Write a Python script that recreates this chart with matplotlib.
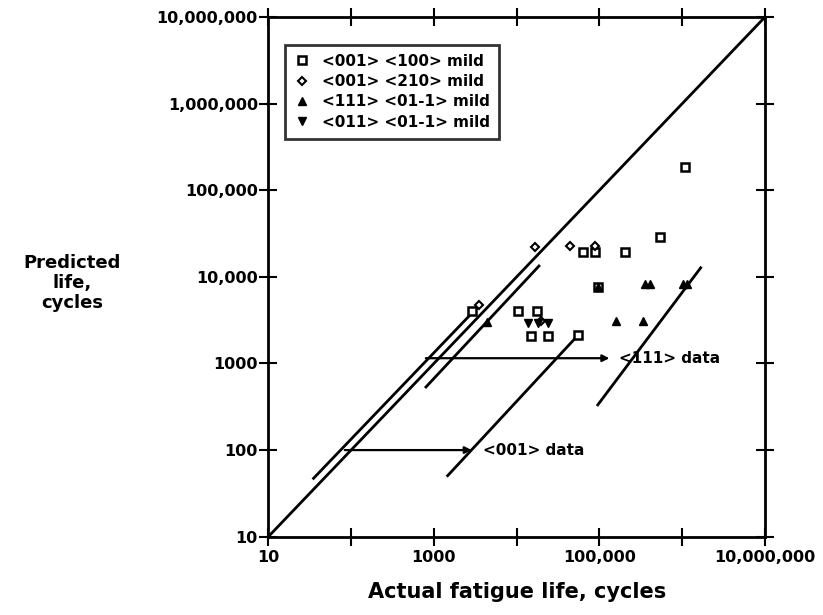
import matplotlib
matplotlib.use("Agg")
import matplotlib.pyplot as plt
from matplotlib.ticker import FixedLocator, FixedFormatter, NullLocator

plt.rcParams['font.family'] = ['DejaVu Sans']
plt.rcParams['font.weight'] = 'bold'

# ---- data: actual fatigue life (x) vs predicted life (y), cycles ----
sq_x = [1.08e6, 5.4e5, 2.03e5, 6.27e4, 8.83e4, 2870, 10400, 17700, 14800, 24100, 55400, 96800]
sq_y = [1.84e5, 28600, 19500, 19200, 19500, 4070, 4070, 4070, 2090, 2090, 2130, 7710]

dia_x = [16600, 44000, 88300, 3530, 19600]
dia_y = [22300, 22700, 22900, 4740, 3120]

up_x = [4420, 3.55e5, 4.08e5, 1.01e6, 1.15e6, 1.58e5, 3.38e5, 96800]
up_y = [3040, 8280, 8280, 8280, 8280, 3120, 3120, 7710]

dn_x = [13800, 18200, 24100]
dn_y = [2910, 2910, 2910]

# reference and band lines (endpoints, cycles)
unity_x = [10, 1e7]
unity_y = [10, 1e7]
pred001_x = [34.3, 3310]
pred001_y = [46.0, 4380]
pred111_x = [782, 19100]
pred111_y = [521, 13700]
data001_x = [1430, 55400]
data001_y = [49.3, 2130]
data111_x = [93300, 1.71e6]
data111_y = [323, 13100]

# shift arrows (start x, end x, level y)
arrow001 = (84, 2870, 100)
arrow111 = (800, 1.32e5, 1150)

legend_labels = ['<001> <100> mild', '<001> <210> mild',
                 '<111> <01-1> mild', '<011> <01-1> mild']

x_ticks = [1e1, 1e2, 1e3, 1e4, 1e5, 1e6, 1e7]
x_tick_labels = ['10', '', '1000', '', '100,000', '', '10,000,000']
y_ticks = [1e1, 1e2, 1e3, 1e4, 1e5, 1e6, 1e7]
y_tick_labels = ['10', '100', '1000', '10,000', '100,000', '1,000,000', '10,000,000']

W, H = 823, 615
fig = plt.figure(figsize=(W / 100, H / 100), dpi=100)
left, right, bottom, top = 268.3, 765.0, 536.7, 17.0
ax = fig.add_axes([left / W, 1 - bottom / H, (right - left) / W, (bottom - top) / H])
ax.set_xscale('log')
ax.set_yscale('log')
ax.set_xlim(10, 1e7)
ax.set_ylim(10, 1e7)

lw = 2.0
for xs, ys in [(unity_x, unity_y), (pred001_x, pred001_y), (pred111_x, pred111_y),
               (data001_x, data001_y), (data111_x, data111_y)]:
    ax.plot(xs, ys, color='black', lw=lw, solid_capstyle='butt')

ax.plot(sq_x, sq_y, ls='none', marker='s', ms=6, mfc='white', mec='black', mew=1.8,
        label=legend_labels[0])
ax.plot(dia_x, dia_y, ls='none', marker='D', ms=4, mfc='white', mec='black', mew=1.5,
        label=legend_labels[1])
ax.plot(up_x, up_y, ls='none', marker='^', ms=5.5, mfc='black', mec='black', mew=1.0,
        label=legend_labels[2])
ax.plot(dn_x, dn_y, ls='none', marker='v', ms=5.5, mfc='black', mec='black', mew=1.0,
        label=legend_labels[3])

for x0, x1, yv in (arrow001, arrow111):
    ax.annotate('', xy=(x1, yv), xytext=(x0, yv),
                arrowprops=dict(arrowstyle='-|>', color='black', lw=1.6,
                                mutation_scale=10, shrinkA=0, shrinkB=0))

ax.text(3.9e3, 100, '<001> data', fontsize=11, fontweight='bold', va='center', ha='left')
ax.text(1.7e5, 1150, '<111> data', fontsize=11, fontweight='bold', va='center', ha='left')

for s in ax.spines.values():
    s.set_linewidth(2.0)

ax.xaxis.set_major_locator(FixedLocator(x_ticks))
ax.xaxis.set_major_formatter(FixedFormatter(x_tick_labels))
ax.yaxis.set_major_locator(FixedLocator(y_ticks))
ax.yaxis.set_major_formatter(FixedFormatter(y_tick_labels))
ax.xaxis.set_minor_locator(NullLocator())
ax.yaxis.set_minor_locator(NullLocator())
ax.tick_params(which='major', direction='inout', length=13, width=1.5,
               top=True, right=True, labelsize=11.5)
ax.tick_params(axis='y', pad=1)
ax.tick_params(axis='x', pad=3)
for lab in ax.get_xticklabels() + ax.get_yticklabels():
    lab.set_fontweight('bold')

ax.set_xlabel('Actual fatigue life, cycles', fontsize=15, fontweight='bold', labelpad=12)
fig.text(72 / W, 1 - 283 / H, 'Predicted\nlife,\ncycles', ha='center', va='center',
         fontsize=13, fontweight='bold', multialignment='center', linespacing=1.15)

leg = ax.legend(loc='upper left', bbox_to_anchor=(0.034, 0.947), fontsize=11,
                frameon=True, fancybox=False, handlelength=1.0, handletextpad=0.8,
                borderpad=0.6, labelspacing=0.35, borderaxespad=0)
leg.get_frame().set_edgecolor('black')
leg.get_frame().set_linewidth(2.0)
for t in leg.get_texts():
    t.set_fontweight('bold')

fig.savefig('out.png', dpi=100)
